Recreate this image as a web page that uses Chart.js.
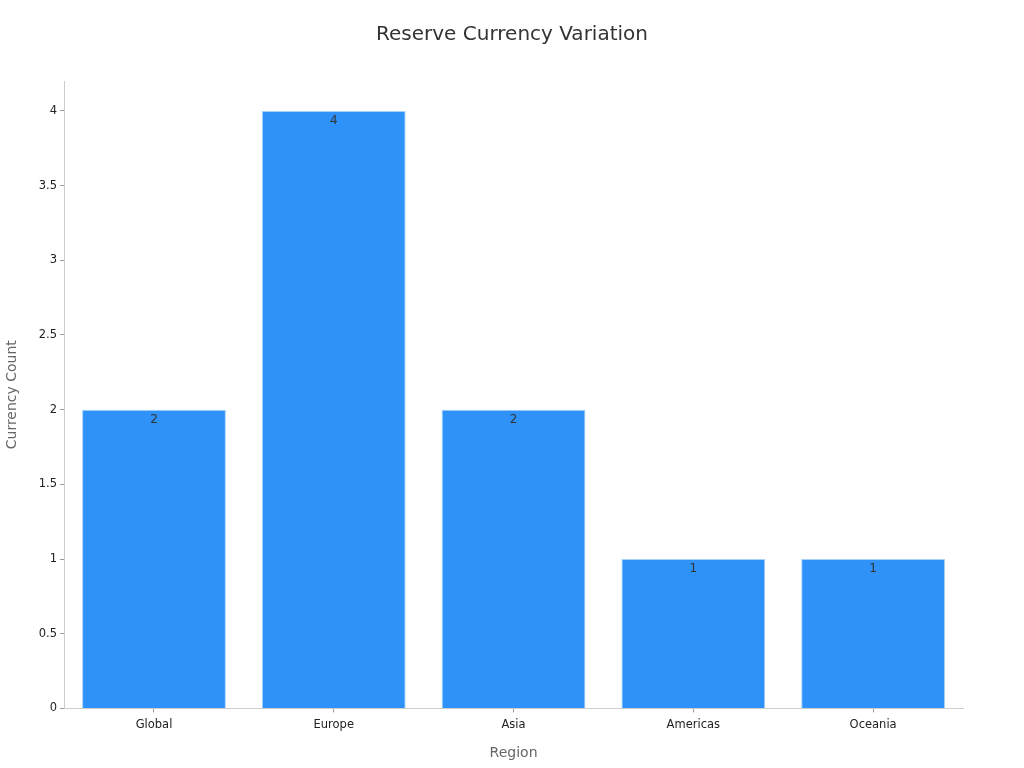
<!DOCTYPE html>
<html>
<head>
<meta charset="utf-8">
<script src="https://cdn.jsdelivr.net/npm/chart.js@4/dist/chart.umd.min.js"></script>
<style>
    html, body { margin: 0; padding: 0; background: #fff; }
    #wrap { width: 1024px; height: 768px; position: relative; }
</style>
</head>
<body>
<div id="wrap"><canvas id="grafico"></canvas></div>
<script>
// ---- DADOS ----
const regioes = ["Global", "Europe", "Asia", "Americas", "Oceania"];
const contagem = [2, 4, 2, 1, 1];
const yTicks = [0, 0.5, 1, 1.5, 2, 2.5, 3, 3.5, 4];

const fonte = "'DejaVu Sans', sans-serif";

// rótulos dentro do topo de cada barra
const rotulosBarras = {
    id: "rotulosBarras",
    afterDatasetsDraw(chart) {
        const ctx = chart.ctx;
        const meta = chart.getDatasetMeta(0);
        ctx.save();
        ctx.font = "12px " + fonte;
        ctx.fillStyle = "#333";
        ctx.textAlign = "center";
        ctx.textBaseline = "middle";
        meta.data.forEach((bar, i) => {
            ctx.fillText(String(contagem[i]), bar.x, bar.y + 10);
        });
        ctx.restore();
    }
};

const ctx = document.getElementById("grafico").getContext("2d");
new Chart(ctx, {
    type: "bar",
    data: {
        labels: regioes,
        datasets: [{
            label: "Currency Count",
            data: contagem,
            backgroundColor: "#2E92F8",
            borderColor: "#A6D2FB",
            borderWidth: 1,
            barPercentage: 0.8,
            categoryPercentage: 1.0
        }]
    },
    options: {
        responsive: true,
        maintainAspectRatio: false,
        animation: false,
        layout: { padding: { left: 0, right: 0, top: 0, bottom: 2 } },
        plugins: {
            legend: { display: false },
            tooltip: { enabled: false },
            title: {
                display: true,
                text: "Reserve Currency Variation",
                color: "#333",
                font: { family: fonte, size: 20, weight: "normal" },
                padding: { top: 23, bottom: 34 }
            }
        },
        scales: {
            x: {
                grid: { display: true, drawOnChartArea: false, offset: false, tickLength: 4, color: "#999" },
                border: { color: "#ccc" },
                ticks: { color: "#222", font: { family: fonte, size: 11.5 }, padding: 6 },
                title: {
                    display: true,
                    text: "Region",
                    color: "#666",
                    font: { family: fonte, size: 14 },
                    padding: { top: 7 }
                }
            },
            y: {
                min: 0,
                max: 4.2,
                afterBuildTicks: axis => {
                    axis.ticks = yTicks.map(v => ({ value: v }));
                },
                grid: { display: true, drawOnChartArea: false, tickLength: 4, color: "#999" },
                border: { color: "#ccc" },
                ticks: {
                    color: "#222",
                    font: { family: fonte, size: 11.5 },
                    padding: 3,
                    callback: v => String(v)
                },
                title: {
                    display: true,
                    text: "Currency Count",
                    color: "#666",
                    font: { family: fonte, size: 14 },
                    padding: { bottom: 15 }
                }
            },
            // eixo vazio à direita só para reservar espaço
            yDireita: {
                position: "right",
                display: true,
                grid: { display: false },
                border: { display: false },
                ticks: { display: false },
                afterFit: axis => { axis.width = 61; }
            }
        }
    },
    plugins: [rotulosBarras]
});
</script>
</body>
</html>
